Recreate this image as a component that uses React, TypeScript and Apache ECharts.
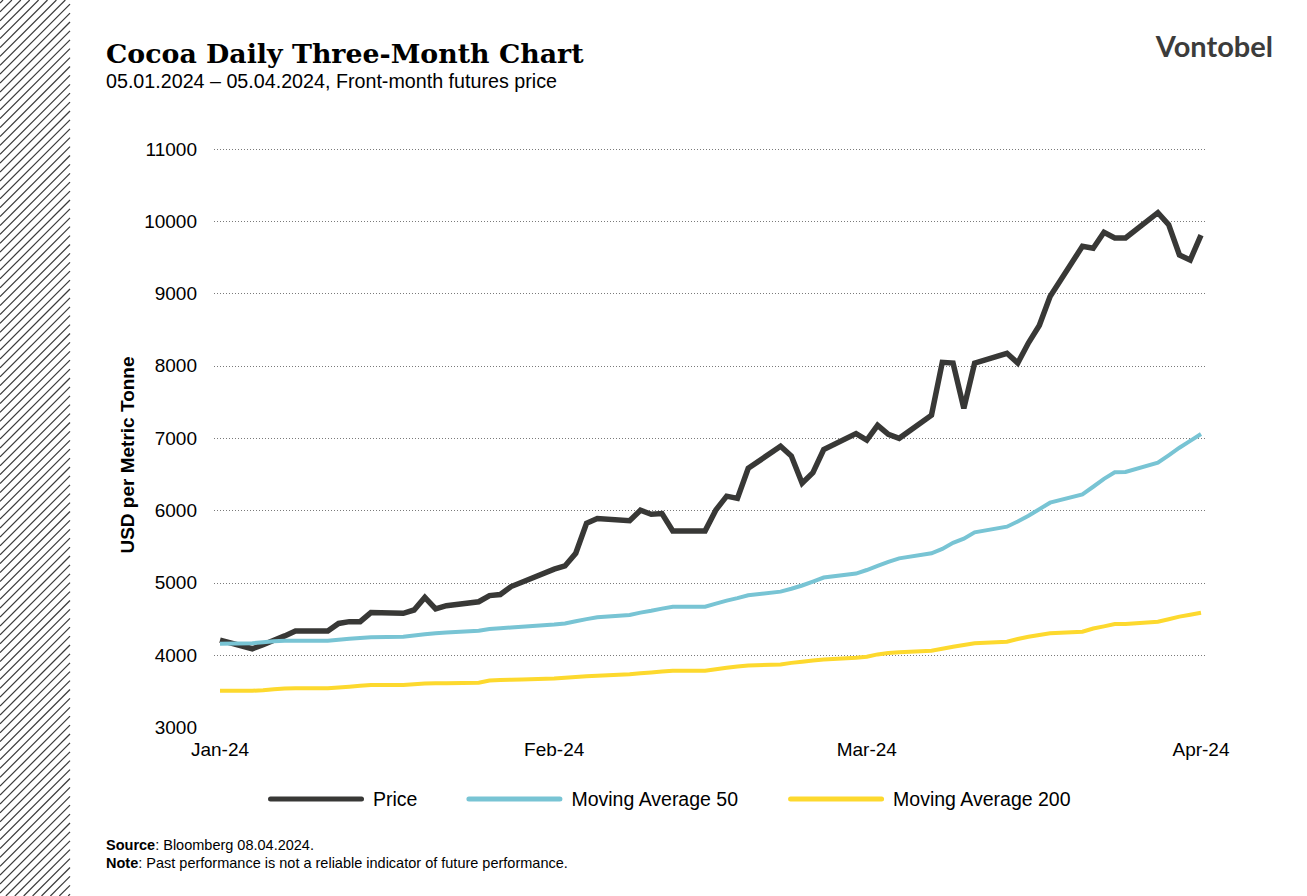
import React, { useEffect, useRef } from "react";
import * as echarts from "echarts";

const dates = [
  "2024-01-05",
  "2024-01-08", "2024-01-09", "2024-01-10", "2024-01-11", "2024-01-12",
  "2024-01-15", "2024-01-16", "2024-01-17", "2024-01-18", "2024-01-19",
  "2024-01-22", "2024-01-23", "2024-01-24", "2024-01-25", "2024-01-26",
  "2024-01-29", "2024-01-30", "2024-01-31", "2024-02-01", "2024-02-02",
  "2024-02-05", "2024-02-06", "2024-02-07", "2024-02-08", "2024-02-09",
  "2024-02-12", "2024-02-13", "2024-02-14", "2024-02-15", "2024-02-16",
  "2024-02-19", "2024-02-20", "2024-02-21", "2024-02-22", "2024-02-23",
  "2024-02-26", "2024-02-27", "2024-02-28", "2024-02-29", "2024-03-01",
  "2024-03-04", "2024-03-05", "2024-03-06", "2024-03-07", "2024-03-08",
  "2024-03-11", "2024-03-12", "2024-03-13", "2024-03-14", "2024-03-15",
  "2024-03-18", "2024-03-19", "2024-03-20", "2024-03-21", "2024-03-22",
  "2024-03-25", "2024-03-26", "2024-03-27", "2024-03-28", "2024-03-29",
  "2024-04-01", "2024-04-02", "2024-04-03", "2024-04-04", "2024-04-05",
];

const price = [
  4210,
  4090, 4145, 4207, 4268, 4335,
  4335, 4440, 4465, 4465, 4590,
  4580, 4626, 4800, 4640, 4686,
  4740, 4825, 4840, 4950, 5010,
  5190, 5235, 5410, 5825, 5890,
  5860, 6005, 5950, 5960, 5720,
  5720, 6010, 6200, 6170, 6585,
  6890, 6755, 6380, 6525, 6845,
  7065, 6975, 7180, 7055, 7000,
  7320, 8050, 8040, 7415, 8040,
  8175, 8040, 8320, 8560, 8960,
  9655, 9627, 9848, 9770, 9770,
  10120, 9955, 9534, 9465, 9810,
];

const ma50 = [
  4160,
  4166, 4180, 4195, 4200, 4200,
  4200, 4215, 4228, 4240, 4249,
  4257, 4272, 4290, 4305, 4316,
  4340, 4364, 4375, 4385, 4395,
  4425, 4440, 4470, 4500, 4525,
  4557, 4590, 4615, 4645, 4672,
  4672, 4715, 4755, 4790, 4830,
  4880, 4920, 4965, 5020, 5075,
  5130, 5179, 5235, 5290, 5340,
  5410, 5470, 5555, 5612, 5700,
  5778, 5850, 5930, 6020, 6110,
  6225, 6330, 6440, 6530, 6534,
  6663, 6765, 6870, 6965, 7059,
];

const ma200 = [
  3510,
  3510, 3515, 3530, 3540, 3543,
  3543, 3555, 3566, 3578, 3589,
  3590, 3600, 3610, 3612, 3614,
  3621, 3650, 3658, 3662, 3666,
  3680, 3690, 3700, 3710, 3718,
  3737, 3750, 3762, 3775, 3786,
  3786, 3808, 3828, 3845, 3860,
  3874, 3895, 3912, 3928, 3940,
  3967, 3981, 4012, 4030, 4041,
  4064, 4090, 4119, 4142, 4166,
  4188, 4225, 4257, 4280, 4304,
  4326, 4370, 4400, 4433, 4433,
  4465, 4498, 4534, 4560, 4589,
];

const tickDates = ["2024-01-05", "2024-02-05", "2024-03-05", "2024-04-05"];
const tickLabels = ["Jan-24", "Feb-24", "Mar-24", "Apr-24"];
const yTicks = { min: 3000, max: 11000, interval: 1000 };
const seriesNames = ["Price", "Moving Average 50", "Moving Average 200"];

const DAY = 86400000;
const ts = (s: string) => {
  const [y, m, d] = s.split("-").map(Number);
  return Date.UTC(y, m - 1, d);
};
const dayIndex = (s: string) => Math.round((ts(s) - ts(dates[0])) / DAY);

export default function App() {
  const ref = useRef<HTMLDivElement>(null);

  useEffect(() => {
    if (!ref.current) return;
    const chart = echarts.init(ref.current, null, { renderer: "svg" });

    const tickDays = tickDates.map(dayIndex);
    const lastDay = dayIndex(dates[dates.length - 1]);
    const toPairs = (arr: number[]) => arr.map((v, i) => [dayIndex(dates[i]), v]);

    const hatch: any[] = [];
    const W = 70;
    const H = 896;
    for (let c = 3; c < W + H; c += 8.9) {
      const p1 = c <= H ? [0, c] : [c - H, H];
      const p2 = c <= W ? [c, 0] : [W, c - W];
      hatch.push({
        type: "line",
        shape: { x1: p1[0], y1: p1[1], x2: p2[0], y2: p2[1] },
        style: { stroke: "#3a3a3a", lineWidth: 1.2 },
        silent: true,
      });
    }

    const legendIcon = "path://M2.5,0 H93.5 A2.5,2.5 0 0 1 93.5,5 H2.5 A2.5,2.5 0 0 1 2.5,0 Z";
    const colors = ["#383836", "#78c4d4", "#fdd92e"];
    const widths = [5.5, 4, 4];
    const seriesData = [price, ma50, ma200];
    const footRich = {
      b: { fontWeight: "bold", fontSize: 14.5, fontFamily: "Liberation Sans", fill: "#000" },
    };

    chart.setOption({
      animation: false,
      backgroundColor: "#ffffff",
      textStyle: { fontFamily: "Liberation Sans, Arial, sans-serif" },
      grid: { left: 214, right: 100, top: 149, bottom: 168.4, containLabel: false },
      legend: {
        left: 268,
        top: 789,
        padding: 0,
        itemWidth: 96,
        itemHeight: 5,
        itemGap: 49,
        icon: legendIcon,
        textStyle: { fontSize: 19.5, color: "#000", padding: [0, 0, 0, 4] },
        data: seriesNames,
      },
      xAxis: {
        type: "value",
        min: -0.557,
        max: lastDay + 0.557,
        axisLine: { show: false },
        axisTick: { show: false },
        splitLine: { show: false },
        axisLabel: {
          customValues: tickDays,
          fontSize: 19,
          color: "#000",
          margin: 12,
          formatter: (val: number) => {
            let best = 0;
            for (let i = 1; i < tickDays.length; i++) {
              if (Math.abs(tickDays[i] - val) < Math.abs(tickDays[best] - val)) best = i;
            }
            return tickLabels[best];
          },
        },
      },
      yAxis: {
        type: "value",
        min: yTicks.min,
        max: yTicks.max,
        interval: yTicks.interval,
        axisLine: { show: false },
        axisTick: { show: false },
        axisLabel: {
          fontSize: 19,
          color: "#000",
          margin: 17,
          formatter: (v: number) => String(v),
        },
        splitLine: {
          show: true,
          showMinLine: false,
          lineStyle: { color: "#7a7a7a", width: 1, type: [1, 2] },
        },
      },
      series: seriesNames.map((name, i) => ({
        name,
        type: "line",
        data: toPairs(seriesData[i]),
        showSymbol: false,
        symbol: "none",
        color: colors[i],
        itemStyle: { color: colors[i] },
        lineStyle: { color: colors[i], width: widths[i], join: "miter" },
      })),
      graphic: [
        ...hatch,
        {
          type: "text",
          x: 127,
          y: 455,
          rotation: Math.PI / 2,
          style: {
            text: "USD per Metric Tonne",
            font: "bold 19px 'Liberation Sans', Arial, sans-serif",
            fill: "#000",
            textAlign: "center",
            textVerticalAlign: "middle",
          },
        },
        {
          type: "text",
          x: 106,
          y: 53,
          style: {
            text: "Cocoa Daily Three-Month Chart",
            font: "bold 26.8px 'DejaVu Serif', serif",
            fill: "#000",
            textAlign: "left",
            textVerticalAlign: "middle",
          },
        },
        {
          type: "text",
          x: 106,
          y: 81,
          style: {
            text: "05.01.2024 – 05.04.2024, Front-month futures price",
            font: "19.7px 'Liberation Sans', Arial, sans-serif",
            fill: "#000",
            textAlign: "left",
            textVerticalAlign: "middle",
          },
        },
        {
          type: "text",
          x: 1273,
          y: 45,
          style: {
            text: "Vontobel",
            font: "bold 29px Lato, sans-serif",
            fill: "#3c3c3b",
            textAlign: "right",
            textVerticalAlign: "middle",
          },
        },
        {
          type: "text",
          x: 106,
          y: 845,
          style: {
            text: "{b|Source}: Bloomberg 08.04.2024.",
            rich: footRich,
            font: "14.5px 'Liberation Sans', Arial, sans-serif",
            fill: "#000",
            textAlign: "left",
            textVerticalAlign: "middle",
          },
        },
        {
          type: "text",
          x: 106,
          y: 863,
          style: {
            text: "{b|Note}: Past performance is not a reliable indicator of future performance.",
            rich: footRich,
            font: "14.5px 'Liberation Sans', Arial, sans-serif",
            fill: "#000",
            textAlign: "left",
            textVerticalAlign: "middle",
          },
        },
      ],
    });

    return () => chart.dispose();
  }, []);

  return (
    <div
      ref={ref}
      style={{ position: "absolute", left: 0, top: 0, width: 1307, height: 896, background: "#fff" }}
    />
  );
}
